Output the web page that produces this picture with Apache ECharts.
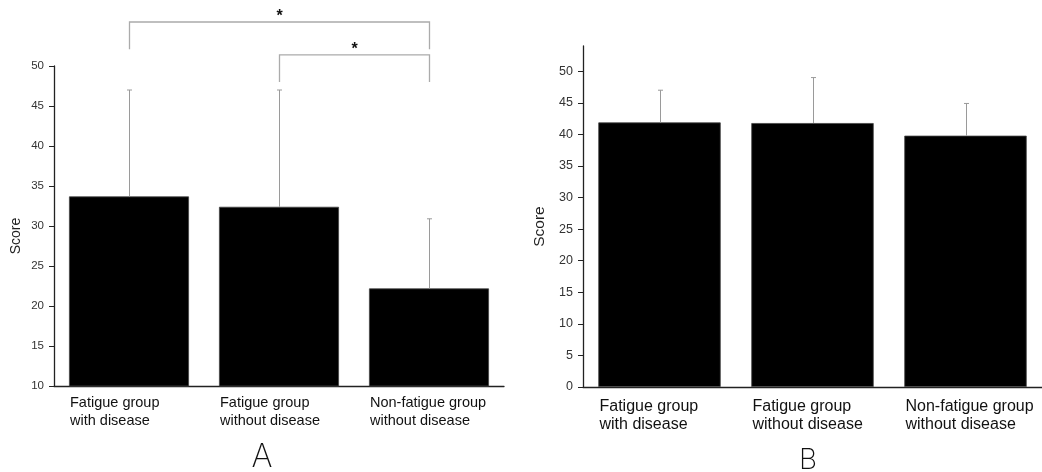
<!DOCTYPE html>
<html>
<head>
<meta charset="utf-8">
<title>Fatigue score by group</title>
<script src="https://cdn.jsdelivr.net/npm/echarts@6/dist/echarts.min.js"></script>
<style>
  html, body { margin: 0; padding: 0; background: #fff; }
  #chart { width: 1042px; height: 472px; }
</style>
</head>
<body>
<div id="chart"></div>
<script>
  var groups = ['Fatigue group\nwith disease', 'Fatigue group\nwithout disease', 'Non-fatigue group\nwithout disease'];

  // panel A
  var meanA = [33.7, 32.4, 22.2];
  var sdA = [13.3, 14.6, 8.7];
  var ticksA = [10, 15, 20, 25, 30, 35, 40, 45, 50];

  // panel B
  var meanB = [41.9, 41.8, 39.8];
  var sdB = [5.1, 7.2, 5.1];
  var ticksB = [0, 5, 10, 15, 20, 25, 30, 35, 40, 45, 50];

  // significance brackets on panel A
  var bracketFrom = [0, 1];
  var bracketTo = [2, 2];
  var bracketTop = [55.5, 51.4];
  var bracketLeg = [52.1, 48.0];
  var bracketMark = ['*', '*'];

  var font = '"Liberation Sans", Arial, sans-serif';

  function errorBar(params, api) {
    var x = api.value(0);
    var low = api.coord([x, api.value(1)]);
    var high = api.coord([x, api.value(2)]);
    var px = Math.round(low[0]) + 0.5;
    var style = { stroke: '#9a9a9a', lineWidth: 1 };
    return {
      type: 'group',
      children: [
        { type: 'line', shape: { x1: px, y1: low[1], x2: px, y2: high[1] }, style: style },
        { type: 'line', shape: { x1: px - 2.5, y1: high[1], x2: px + 2.5, y2: high[1] }, style: style }
      ]
    };
  }

  function bracket(params, api) {
    var a = api.coord([api.value(0), api.value(2)]);
    var b = api.coord([api.value(1), api.value(2)]);
    var legY = api.coord([api.value(0), api.value(3)])[1];
    var xa = Math.round(a[0]) + 0.5, xb = Math.round(b[0]) + 0.5;
    return {
      type: 'group',
      children: [
        {
          type: 'polyline',
          shape: { points: [[xa, legY], [xa, a[1]], [xb, a[1]], [xb, legY]] },
          style: { stroke: '#ababab', fill: null, lineWidth: 1.3 }
        },
        {
          type: 'text',
          x: (xa + xb) / 2,
          y: a[1] + 3,
          style: {
            text: bracketMark[params.dataIndex],
            fontFamily: font, fontSize: 16, fontWeight: 'bold', fill: '#111',
            align: 'center', verticalAlign: 'bottom'
          }
        }
      ]
    };
  }

  function labelFmt(v) {
    return v.split('\n').map(function (s) { return '{a|' + s + '}'; }).join('\n');
  }

  function valueAxis(idx, min, max, ticks, size, nameSize, gap) {
    return {
      type: 'value', gridIndex: idx, min: min, max: max, interval: 5,
      name: 'Score', nameLocation: 'middle', nameRotate: 90, nameGap: gap,
      nameTextStyle: { fontFamily: font, fontSize: nameSize, color: '#222', padding: [0, 20, 0, 0] },
      axisLine: { show: true, lineStyle: { color: '#222', width: 1.3 } },
      axisTick: { show: true, length: 5, customValues: ticks, lineStyle: { color: '#222' } },
      axisLabel: { customValues: ticks, margin: 10, fontFamily: font, fontSize: size, color: '#333' },
      splitLine: { show: false }
    };
  }

  function catAxis(idx, size, lh, margin, w) {
    return {
      type: 'category', gridIndex: idx, data: groups,
      axisLine: { lineStyle: { color: '#222', width: 1.3 } },
      axisTick: { show: false },
      axisLabel: {
        interval: 0, margin: margin, formatter: labelFmt,
        rich: { a: { width: w, align: 'left', fontFamily: font, fontSize: size, lineHeight: lh, color: '#111' } }
      }
    };
  }

  var chart = echarts.init(document.getElementById('chart'));
  chart.setOption({
    animation: false,
    grid: [
      { left: 54, top: 66, width: 450, height: 320 },
      { left: 583, top: 46, width: 459, height: 341 }
    ],
    xAxis: [catAxis(0, 14.5, 18, 8, 118), catAxis(1, 16, 18.5, 10, 120)],
    yAxis: [valueAxis(0, 10, 50, ticksA, 11.5, 14, 31), valueAxis(1, 0, 54, ticksB, 12.5, 15.5, 35)],
    graphic: [
      { type: 'text', x: 262, y: 457, style: { text: 'A', fontFamily: 'Inter', fontWeight: 200, fontSize: 32, fill: '#111', align: 'center', verticalAlign: 'middle' } },
      { type: 'text', x: 808, y: 461, style: { text: 'B', fontFamily: 'Inter', fontWeight: 200, fontSize: 28, fill: '#111', align: 'center', verticalAlign: 'middle' } }
    ],
    series: [
      {
        type: 'bar', xAxisIndex: 0, yAxisIndex: 0, data: meanA, barCategoryGap: '20%',
        itemStyle: { color: '#000', borderColor: '#444', borderWidth: 0.8 }
      },
      {
        type: 'custom', xAxisIndex: 0, yAxisIndex: 0, renderItem: errorBar, z: 3,
        data: meanA.map(function (m, i) { return [i, m, +(m + sdA[i]).toFixed(1)]; })
      },
      {
        type: 'custom', xAxisIndex: 0, yAxisIndex: 0, renderItem: bracket, clip: false,
        encode: { x: [0, 1], y: [2, 3] },
        data: bracketFrom.map(function (f, i) { return [f, bracketTo[i], bracketTop[i], bracketLeg[i]]; })
      },
      {
        type: 'bar', xAxisIndex: 1, yAxisIndex: 1, data: meanB, barCategoryGap: '20%',
        itemStyle: { color: '#000', borderColor: '#444', borderWidth: 0.8 }
      },
      {
        type: 'custom', xAxisIndex: 1, yAxisIndex: 1, renderItem: errorBar, z: 3,
        data: meanB.map(function (m, i) { return [i, m, +(m + sdB[i]).toFixed(1)]; })
      }
    ]
  });
</script>
</body>
</html>
